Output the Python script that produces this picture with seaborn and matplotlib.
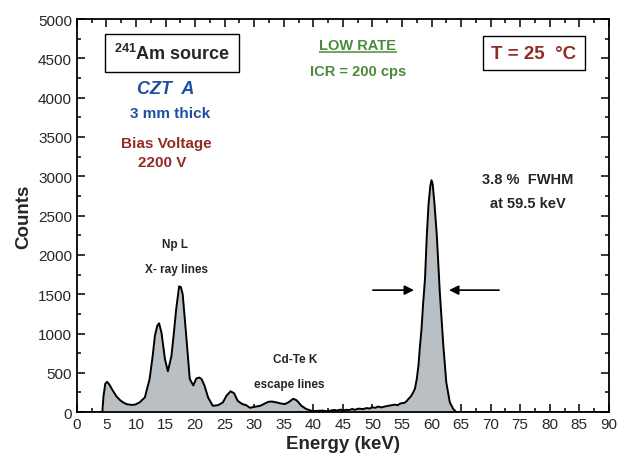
import matplotlib
matplotlib.use("Agg")
import matplotlib.pyplot as plt
from matplotlib.ticker import MultipleLocator
import seaborn as sns
import pandas as pd

# Am-241 pulse height spectrum measured with CZT detector A
energy_kev = [0, 4.3, 4.5, 4.8, 5.1, 5.5, 6.1, 6.7, 7.3, 7.8, 8.4, 9.2, 9.8, 10.6,
              11.5, 12.3, 12.8, 13.2, 13.6, 13.9, 14.3, 14.9, 15.4, 16.0, 16.4,
              16.8, 17.3, 17.6, 17.9, 18.5, 19.1, 19.7, 20.2, 20.7, 21.1, 21.6,
              22.2, 23.0, 23.9, 24.7, 25.3, 26.0, 26.6, 27.2, 28.0, 28.6, 29.3,
              30.2, 31.0, 31.8, 32.4, 33.0, 33.8, 34.5, 35.2, 35.9, 36.6, 37.2,
              38.0, 38.8, 39.7, 40.5, 41.5, 42.2, 42.8, 43.5, 44.0, 44.6, 45.0,
              45.6, 46.0, 46.6, 47.0, 47.7, 48.4, 49.0, 49.5, 50.0, 50.5, 51.0,
              51.5, 52.3, 53.0, 53.8, 54.3, 54.7, 55.4, 55.8, 56.0, 56.5, 56.9,
              57.2, 57.5, 57.8, 58.0, 58.3, 58.6, 58.9, 59.2, 59.5, 59.8, 60.0,
              60.2, 60.5, 60.9, 61.4, 62.0, 62.5, 63.1, 63.7, 64.2, 90]
counts = [0, 0, 200, 360, 386, 350, 271, 200, 153, 125, 102, 92, 95, 123,
          187, 420, 700, 971, 1100, 1130, 1018, 674, 520, 716, 1000,
          1310, 1600, 1590, 1501, 971, 420, 340, 428, 440, 420, 335,
          187, 80, 89, 123, 208, 265, 240, 144, 102, 90, 55,
          70, 80, 110, 131, 135, 123, 110, 102, 130, 170, 150,
          80, 40, 17, 15, 20, 12, 17, 28, 20, 32, 20,
          30, 26, 40, 30, 45, 38, 52, 45, 62, 55, 72,
          60, 75, 85, 95, 88, 110, 118, 140, 160, 200, 250,
          300, 420, 600, 800, 1050, 1400, 1700, 2243, 2650, 2880, 2950,
          2900, 2650, 2243, 1526, 844, 378, 123, 38, 0, 0]

x_ticks = list(range(0, 95, 5))
y_ticks = list(range(0, 5500, 500))

df = pd.DataFrame({"Energy (keV)": energy_kev, "Counts": counts})

sns.set_style("ticks")
plt.rcParams["font.family"] = ["Liberation Sans", "DejaVu Sans"]
plt.rcParams["mathtext.fontset"] = "custom"
plt.rcParams["mathtext.rm"] = "Liberation Sans:bold"
plt.rcParams["mathtext.bf"] = "Liberation Sans:bold"

fig = plt.figure(figsize=(6.2, 4.56), dpi=100)
ax = fig.add_axes([0.124, 0.094, 0.858, 0.862])

ax.fill_between(df["Energy (keV)"], df["Counts"], color="#b9bfc3", lw=0)
sns.lineplot(data=df, x="Energy (keV)", y="Counts", ax=ax, color="black",
             lw=1.4, sort=False)

ax.set_xlim(0, 90)
ax.set_ylim(0, 5000)
ax.set_xticks(x_ticks)
ax.set_yticks(y_ticks)
ax.xaxis.set_minor_locator(MultipleLocator(2.5))
ax.yaxis.set_minor_locator(MultipleLocator(250))
ax.tick_params(which="both", direction="in", top=True, right=True,
               labelsize=11, width=1.1, color="black")
ax.tick_params(which="major", length=6)
ax.tick_params(which="minor", length=3)
for s in ax.spines.values():
    s.set_linewidth(1.3)
    s.set_color("black")

ax.set_xlabel("Energy (keV)", fontsize=13.5, fontweight="bold", labelpad=3)
ax.set_ylabel("Counts", fontsize=13.5, fontweight="bold", labelpad=4)

# annotations
ax.text(16.1, 4567, r"$^{241}$Am source", fontsize=13, fontweight="bold",
        ha="center", va="center",
        bbox=dict(boxstyle="square,pad=0.5", fc="white", ec="black", lw=1.0))
ax.text(15.1, 4122, "CZT  A", fontsize=13, fontweight="bold", style="italic",
        color="#1f4ea3", ha="center", va="center")
ax.text(15.7, 3804, "3 mm thick", fontsize=11, fontweight="bold",
        color="#1f4ea3", ha="center", va="center")
ax.text(15.1, 3422, "Bias Voltage", fontsize=11, fontweight="bold",
        color="#922b25", ha="center", va="center")
ax.text(14.4, 3180, "2200 V", fontsize=11, fontweight="bold",
        color="#922b25", ha="center", va="center")

ax.text(47.5, 4665, "LOW RATE", fontsize=10.5, fontweight="bold",
        color="#4b8a3c", ha="center", va="center")
ax.hlines(4575, 40.9, 54.2, color="#4b8a3c", lw=1.1)
ax.text(47.5, 4345, "ICR = 200 cps", fontsize=10.5, fontweight="bold",
        color="#4b8a3c", ha="center", va="center")

ax.text(77.3, 4567, "T = 25  \u00b0C", fontsize=13.5, fontweight="bold",
        color="#922b25", ha="center", va="center",
        bbox=dict(boxstyle="square,pad=0.45", fc="white", ec="black", lw=1.0))

ax.text(76.3, 2964, "3.8 %  FWHM", fontsize=10.5, fontweight="bold",
        ha="center", va="center")
ax.text(76.3, 2659, "at 59.5 keV", fontsize=10.5, fontweight="bold",
        ha="center", va="center")

ax.text(16.6, 2137, "Np L", fontsize=8.5, fontweight="bold",
        ha="center", va="center")
ax.text(16.9, 1819, "X- ray lines", fontsize=8.5, fontweight="bold",
        ha="center", va="center")
ax.text(36.9, 674, "Cd-Te K", fontsize=8.5, fontweight="bold",
        ha="center", va="center")
ax.text(36.0, 356, "escape lines", fontsize=8.5, fontweight="bold",
        ha="center", va="center")

arrow = dict(arrowstyle="-|>", color="black", lw=1.2, mutation_scale=14)
ax.annotate("", xy=(57.5, 1552), xytext=(49.6, 1552), arrowprops=arrow)
ax.annotate("", xy=(62.5, 1552), xytext=(71.9, 1552), arrowprops=arrow)

fig.savefig("out.png", dpi=100)
